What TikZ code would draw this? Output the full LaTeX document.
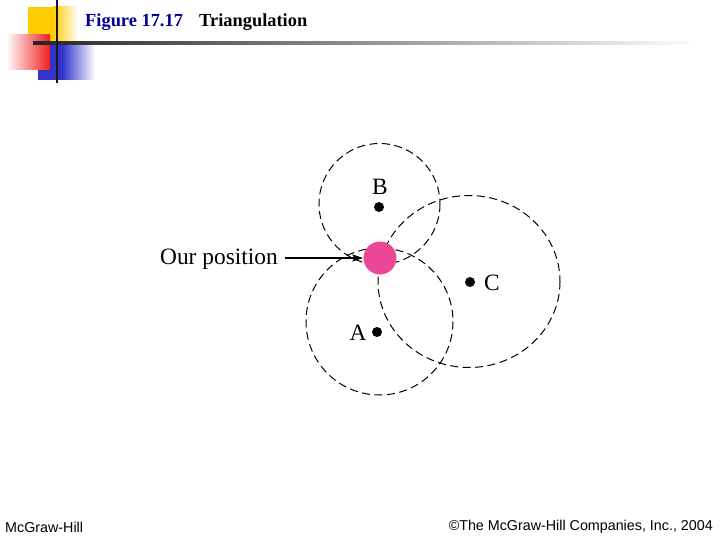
\documentclass[tikz,border=0pt]{standalone}
\usepackage{fontspec}
\setmainfont{Liberation Serif}
\newfontfamily\arialfont{Liberation Sans}
\usetikzlibrary{arrows.meta}
\definecolor{pinkdot}{RGB}{234,72,150}
\definecolor{titleblue}{RGB}{0,0,153}
\definecolor{decyellow}{RGB}{255,204,0}
\definecolor{decred}{RGB}{240,30,30}
\definecolor{decblue}{RGB}{51,51,204}
\begin{document}
\begin{tikzpicture}[x=1pt,y=-1pt,
  rangecircle/.style={draw=black,line width=1pt,dash pattern=on 8pt off 4.5pt},
  station/.style={circle,fill=black,inner sep=0pt,minimum size=10pt},
  lbl/.style={font=\fontsize{23.4}{23.4}\selectfont,inner sep=0pt},
  foot/.style={font=\arialfont\fontsize{14.3}{14.3}\selectfont,inner sep=0pt}]
\useasboundingbox (0,0) rectangle (720,540);
% decoration
\shade[left color=decyellow,right color=white] (53,7) rectangle (78,45);
\fill[decyellow] (28,7) rectangle (53.5,45);
\shade[left color=white,right color=decred] (6,35) rectangle (50,70);
\shade[left color=decblue,right color=white] (62,45) rectangle (95,80);
\fill[decblue] (38,70) rectangle (62.5,80);
\fill[decblue] (50,45) rectangle (62.5,70);
\shade[left color=black!85,right color=white] (33,41.8) rectangle (700,44.2);
\fill[black!90] (56,0) rectangle (58.2,83);
% title
\node[anchor=west,inner sep=0pt,font=\bfseries\fontsize{18.4}{18.4}\selectfont,text=titleblue] (fig) at (85,22) {Figure 17.17};
\node[anchor=west,inner sep=0pt,font=\bfseries\fontsize{18.4}{18.4}\selectfont] (ttl) at (199,22) {Triangulation};
% circles
\coordinate (cB) at (379.5,204);
\coordinate (cA) at (379.5,321.5);
\coordinate (cC) at (469,281.5);
\draw[rangecircle] (cB) circle[radius=60.5];
\draw[rangecircle] (cA) circle[radius=73.5];
\draw[rangecircle] (cC) circle[x radius=91,y radius=86];
% stations
\node[station] (B) at (379,207) {};
\node[station] (A) at (377,332) {};
\node[station] (C) at (470,282) {};
\node[lbl] (Bl) at (380,187) {B};
\node[lbl] (Al) at (358,333) {A};
\node[lbl] (Cl) at (492,283) {C};
% position
\node[circle,fill=pinkdot,inner sep=0pt,minimum size=33pt] (pos) at (380,258) {};
\node[lbl,anchor=east] (our) at (278,259) {Our position};
\draw[line width=1.4pt,-{Stealth[length=11pt,width=7pt,inset=2pt]}] (our.east)+(7,-1) -- (pos.west);
% footer
\node[foot,anchor=west] (mh) at (5,527) {McGraw-Hill};
\node[foot,anchor=east] (cp) at (713,527) {\textcopyright The McGraw-Hill Companies, Inc., 2004};
\end{tikzpicture}
\end{document}
